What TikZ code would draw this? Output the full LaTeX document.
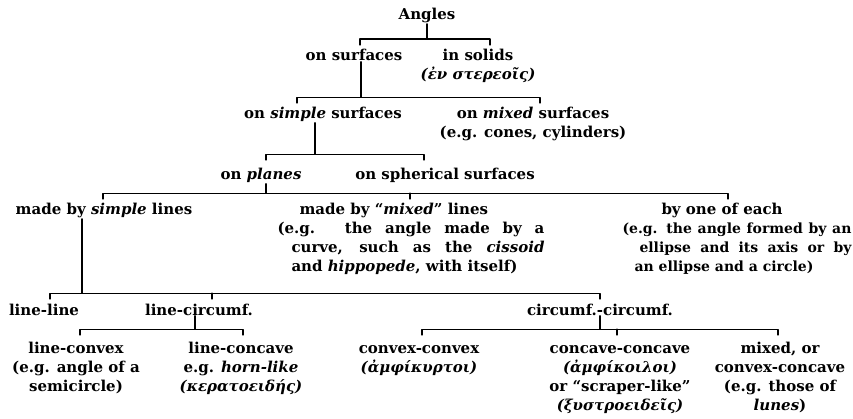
\documentclass[tikz,border=0pt]{standalone}
\usepackage{fontspec}
\setmainfont{DejaVu Serif}
\begin{document}
\begin{tikzpicture}[x=1pt,y=-1pt,line cap=round,line join=round,line width=1.1pt,
	every node/.style={font=\bfseries\fontsize{15}{19}\selectfont,inner sep=0pt,anchor=base},
	lbl/.style={align=center},
	blk/.style={align=left}]
	\useasboundingbox (0,0) rectangle (853,419);
	% single-line headings
	\foreach \n/\x/\y/\t in {
		angles/427/20/Angles,
		surf/354/61/on surfaces,
		simple/323/119/{on \textit{simple} surfaces},
		planes/261/180/{on \textit{planes}},
		spher/445/180/on spherical surfaces,
		bysimple/104/215/{made by \textit{simple} lines},
		lineline/44/315/line-line,
		linecirc/199/315/line-circumf.,
		circcirc/600/315/circumf.-circumf.
	}{
		\node (\n) at (\x,\y) {\t};
	}
	% multi-line headings (placed at the baseline of their last line)
	\node[lbl] (solids) at (478,80) {in solids\\\textit{(ἐν στερεοῖς)}};
	\node[lbl] (mixed) at (533,138) {on \textit{mixed} surfaces\\(e.g. cones, cylinders)};
	\node[blk] (bymixed) at (411,272) {\makebox[267pt][l]{\hspace*{22pt}made by ``\textit{mixed}'' lines}\\
		\hbox to 267pt{(e.g. the angle made by a}\\
		\hspace*{14pt}\hbox to 253pt{curve, such as the \textit{cissoid}}\\
		\hspace*{14pt}and \textit{hippopede}, with itself)};
	\node[blk] (byeach) at (737,272) {\makebox[229pt][l]{\hspace*{39pt}by one of each}\\
		\fontsize{14}{19}\selectfont\hbox to 229pt{(e.g. the angle formed by an}\\
		\fontsize{14}{19}\selectfont\hspace*{17pt}\hbox to 212pt{ellipse and its axis or by}\\
		\fontsize{14}{19}\selectfont\hspace*{12pt}an ellipse and a circle)};
	\node[lbl] (lconvex) at (76,391) {line-convex\\(e.g. angle of a\\semicircle)};
	\node[lbl] (lconcave) at (241,391) {line-concave\\e.g. \textit{horn-like}\\\textit{(κερατοειδής)}};
	\node[lbl] (cvx) at (419,372) {\vphantom{l}convex-convex\\\textit{(ἀμφίκυρτοι)}};
	\node[lbl] (ccv) at (620,410) {\vphantom{l}concave-concave\\\textit{(ἀμφίκοιλοι)}\\or ``scraper-like''\\\textit{(ξυστροειδεῖς)}};
	\node[lbl] (mixedb) at (780,410) {mixed, or\\convex-concave\\(e.g. those of\\\textit{lunes})};
	% brackets
	\draw ([xshift=6pt,yshift=4pt]surf.north) -- ++(0,-6) coordinate (b1) -| ([xshift=12pt,yshift=4pt]solids.north);
	\draw (angles.south) -- (angles.south |- b1);
	\draw ([xshift=-26pt,yshift=4pt]simple.north) -- ++(0,-6) coordinate (b2) -| ([xshift=7pt,yshift=4pt]mixed.north);
	\draw ([xshift=7pt]surf.south) -- ([xshift=7pt]surf.south |- b2);
	\draw ([xshift=5pt,yshift=8pt]planes.north) -- ++(0,-6) coordinate (b3) -| ([xshift=-21pt,yshift=8pt]spher.north);
	\draw ([xshift=-8pt]simple.south) -- ([xshift=-8pt]simple.south |- b3);
	\draw ([xshift=-1pt,yshift=4pt]bysimple.north) -- ++(0,-6) coordinate (b4) -| ([xshift=-9pt,yshift=4pt]byeach.north);
	\draw ([xshift=-1pt,yshift=4pt]bymixed.north) -- ([xshift=-1pt]bymixed.north |- b4);
	\draw ([xshift=5pt]planes.south) -- ([xshift=5pt]planes.south |- b4);
	\draw ([xshift=6pt,yshift=4pt]lineline.north) -- ++(0,-6) coordinate (b5) -| ([yshift=4pt]circcirc.north);
	\draw ([xshift=13pt,yshift=4pt]linecirc.north) -- ([xshift=13pt]linecirc.north |- b5);
	\draw ([xshift=-22pt]bysimple.south) -- ([xshift=-22pt]bysimple.south |- b5);
	\draw ([xshift=4pt,yshift=6pt]lconvex.north) -- ++(0,-6) coordinate (b6) -| ([xshift=2pt,yshift=6pt]lconcave.north);
	\draw ([xshift=-4pt]linecirc.south) -- ([xshift=-4pt]linecirc.south |- b6);
	\draw ([xshift=3pt,yshift=6pt]cvx.north) -- ++(0,-6) coordinate (b7) -| ([xshift=-2pt,yshift=6pt]mixedb.north);
	\draw ([xshift=-3pt,yshift=6pt]ccv.north) -- ([xshift=-3pt]ccv.north |- b7);
	\draw (circcirc.south) -- (circcirc.south |- b7);
\end{tikzpicture}
\end{document}
